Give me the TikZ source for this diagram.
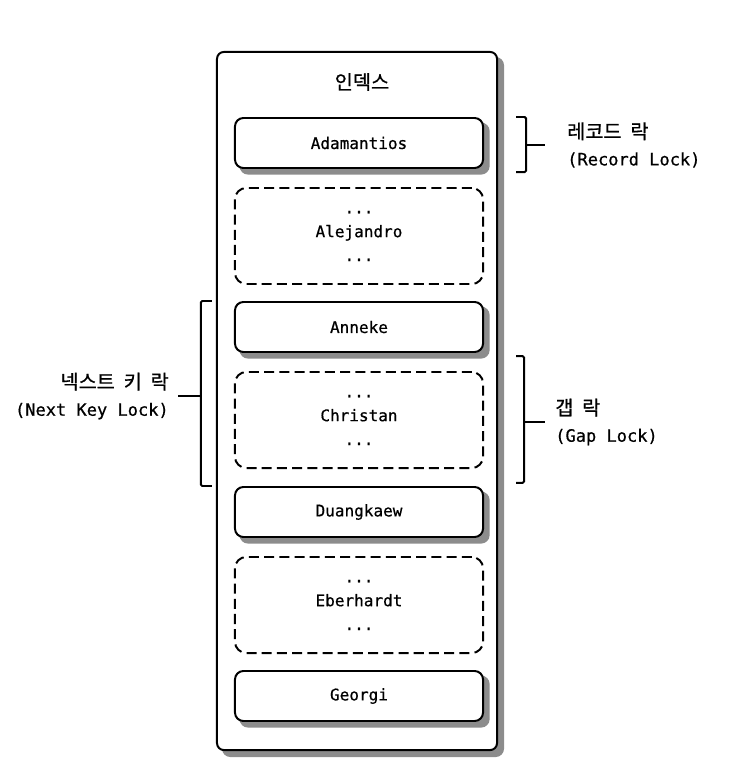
\documentclass[tikz,border=0pt]{standalone}
\usepackage{fontspec}
\setmonofont[FakeBold=0.6]{DejaVu Sans Mono}
\newfontfamily\kr[WordSpace=2, FakeBold=0.8]{Noto Sans CJK KR}
\usepackage{tikz}
\usetikzlibrary{positioning,backgrounds}
\pgfdeclarelayer{bottom}
\pgfdeclarelayer{back}
\pgfdeclarelayer{shadow}
\pgfsetlayers{bottom,back,shadow,main}

\begin{document}
\begin{tikzpicture}[x=0.025cm, y=-0.025cm,
    outerbox/.style={rectangle, draw, line width=1.4pt, rounded corners=5pt, minimum width=7cm, minimum height=17.45cm, fill=white},
    recbox/.style={rectangle, draw, line width=1.4pt, rounded corners=6pt, minimum width=6.2cm, minimum height=1.25cm, fill=white, font=\ttfamily\fontsize{11.4}{14}\selectfont},
    gapbox/.style={rectangle, draw, line width=1.4pt, dash pattern=on 0.25cm off 0.13cm, rounded corners=8pt, minimum width=6.2cm, minimum height=2.4cm, align=center, font=\ttfamily\fontsize{11.4}{17}\selectfont},
    boxshadow/.style={fill=black!45, rounded corners=6pt},
    lbl/.style={inner sep=0pt, font=\ttfamily\fontsize{12.1}{19}\selectfont},
    krtext/.style={font=\kr\fontsize{14}{17}\selectfont},
    brace/.style={line width=1.4pt, rounded corners=1pt}
]
    \useasboundingbox (0,0) rectangle (734,782);

    % Index
    \begin{pgfonlayer}{back}
    \node[outerbox] (index) at (357,401) {};
    \end{pgfonlayer}
    \begin{pgfonlayer}{bottom}
    \fill[boxshadow] ([xshift=0.15cm,yshift=-0.15cm]index.south west) rectangle ([xshift=0.15cm,yshift=-0.15cm]index.north east);
    \end{pgfonlayer}
    \node[krtext] (title) at (362,82) {인덱스};

    % Records and gaps
    \node[recbox] (adam) at (359,143) {Adamantios};
    \node[gapbox] (alej) at (359,236) {...\\Alejandro\\...};
    \node[recbox] (anneke) at (359,327) {Anneke};
    \node[gapbox] (christ) at (359,420) {...\\Christan\\...};
    \node[recbox] (duang) at (359,512) {Duangkaew};
    \node[gapbox] (eber) at (359,605) {...\\Eberhardt\\...};
    \node[recbox] (georgi) at (359,696) {Georgi};

    % Shadows under the records
    \begin{pgfonlayer}{shadow}
    \foreach \rec in {adam,anneke,duang,georgi}
        \fill[boxshadow] ([xshift=0.14cm,yshift=-0.14cm]\rec.south west) rectangle ([xshift=0.14cm,yshift=-0.14cm]\rec.north east);
    \end{pgfonlayer}

    % Record lock
    \draw[brace] ([xshift=0.8cm]adam.north east) -- ([xshift=1.05cm]adam.north east) -- ([xshift=1.05cm,yshift=-0.08cm]adam.south east) -- ([xshift=0.8cm,yshift=-0.08cm]adam.south east);
    \node[lbl, anchor=west, align=left] (reclbl) at (567,145) {{\kr\fontsize{14}{19}\selectfont 레코드 락}\\(Record Lock)};
    \coordinate (recedge) at ([xshift=1.05cm]adam.east);
    \coordinate (rectick) at (reclbl.west -| recedge);
    \draw[brace] (rectick) -- ([xshift=-0.55cm]reclbl.west);

    % Gap lock
    \draw[brace] ([xshift=0.8cm,yshift=-0.08cm]anneke.south east) -- ([xshift=1cm,yshift=-0.08cm]anneke.south east) -- ([xshift=1cm,yshift=0.08cm]duang.north east) -- ([xshift=0.8cm,yshift=0.08cm]duang.north east);
    \node[lbl, anchor=west, align=left] (gaplbl) at (555,422) {{\kr\fontsize{14}{19}\selectfont 갭 락}\\(Gap Lock)};
    \coordinate (gapedge) at ([xshift=1cm]duang.north east);
    \coordinate (gaptick) at (gaplbl.west -| gapedge);
    \draw[brace] (gaptick) -- ([xshift=-0.25cm]gaplbl.west);

    % Next key lock
    \draw[brace] ([xshift=-0.55cm]anneke.north west) -- ([xshift=-0.83cm]anneke.north west) -- ([xshift=-0.83cm]duang.north west) -- ([xshift=-0.55cm]duang.north west);
    \node[lbl, anchor=east, align=right] (nklbl) at (169,396) {{\kr\fontsize{14}{19}\selectfont 넥스트 키 락}\\(Next Key Lock)};
    \coordinate (nkedge) at ([xshift=-0.83cm]anneke.north west);
    \coordinate (nktick) at (nklbl.east -| nkedge);
    \draw[brace] (nktick) -- ([xshift=0.22cm]nklbl.east);
\end{tikzpicture}
\end{document}
